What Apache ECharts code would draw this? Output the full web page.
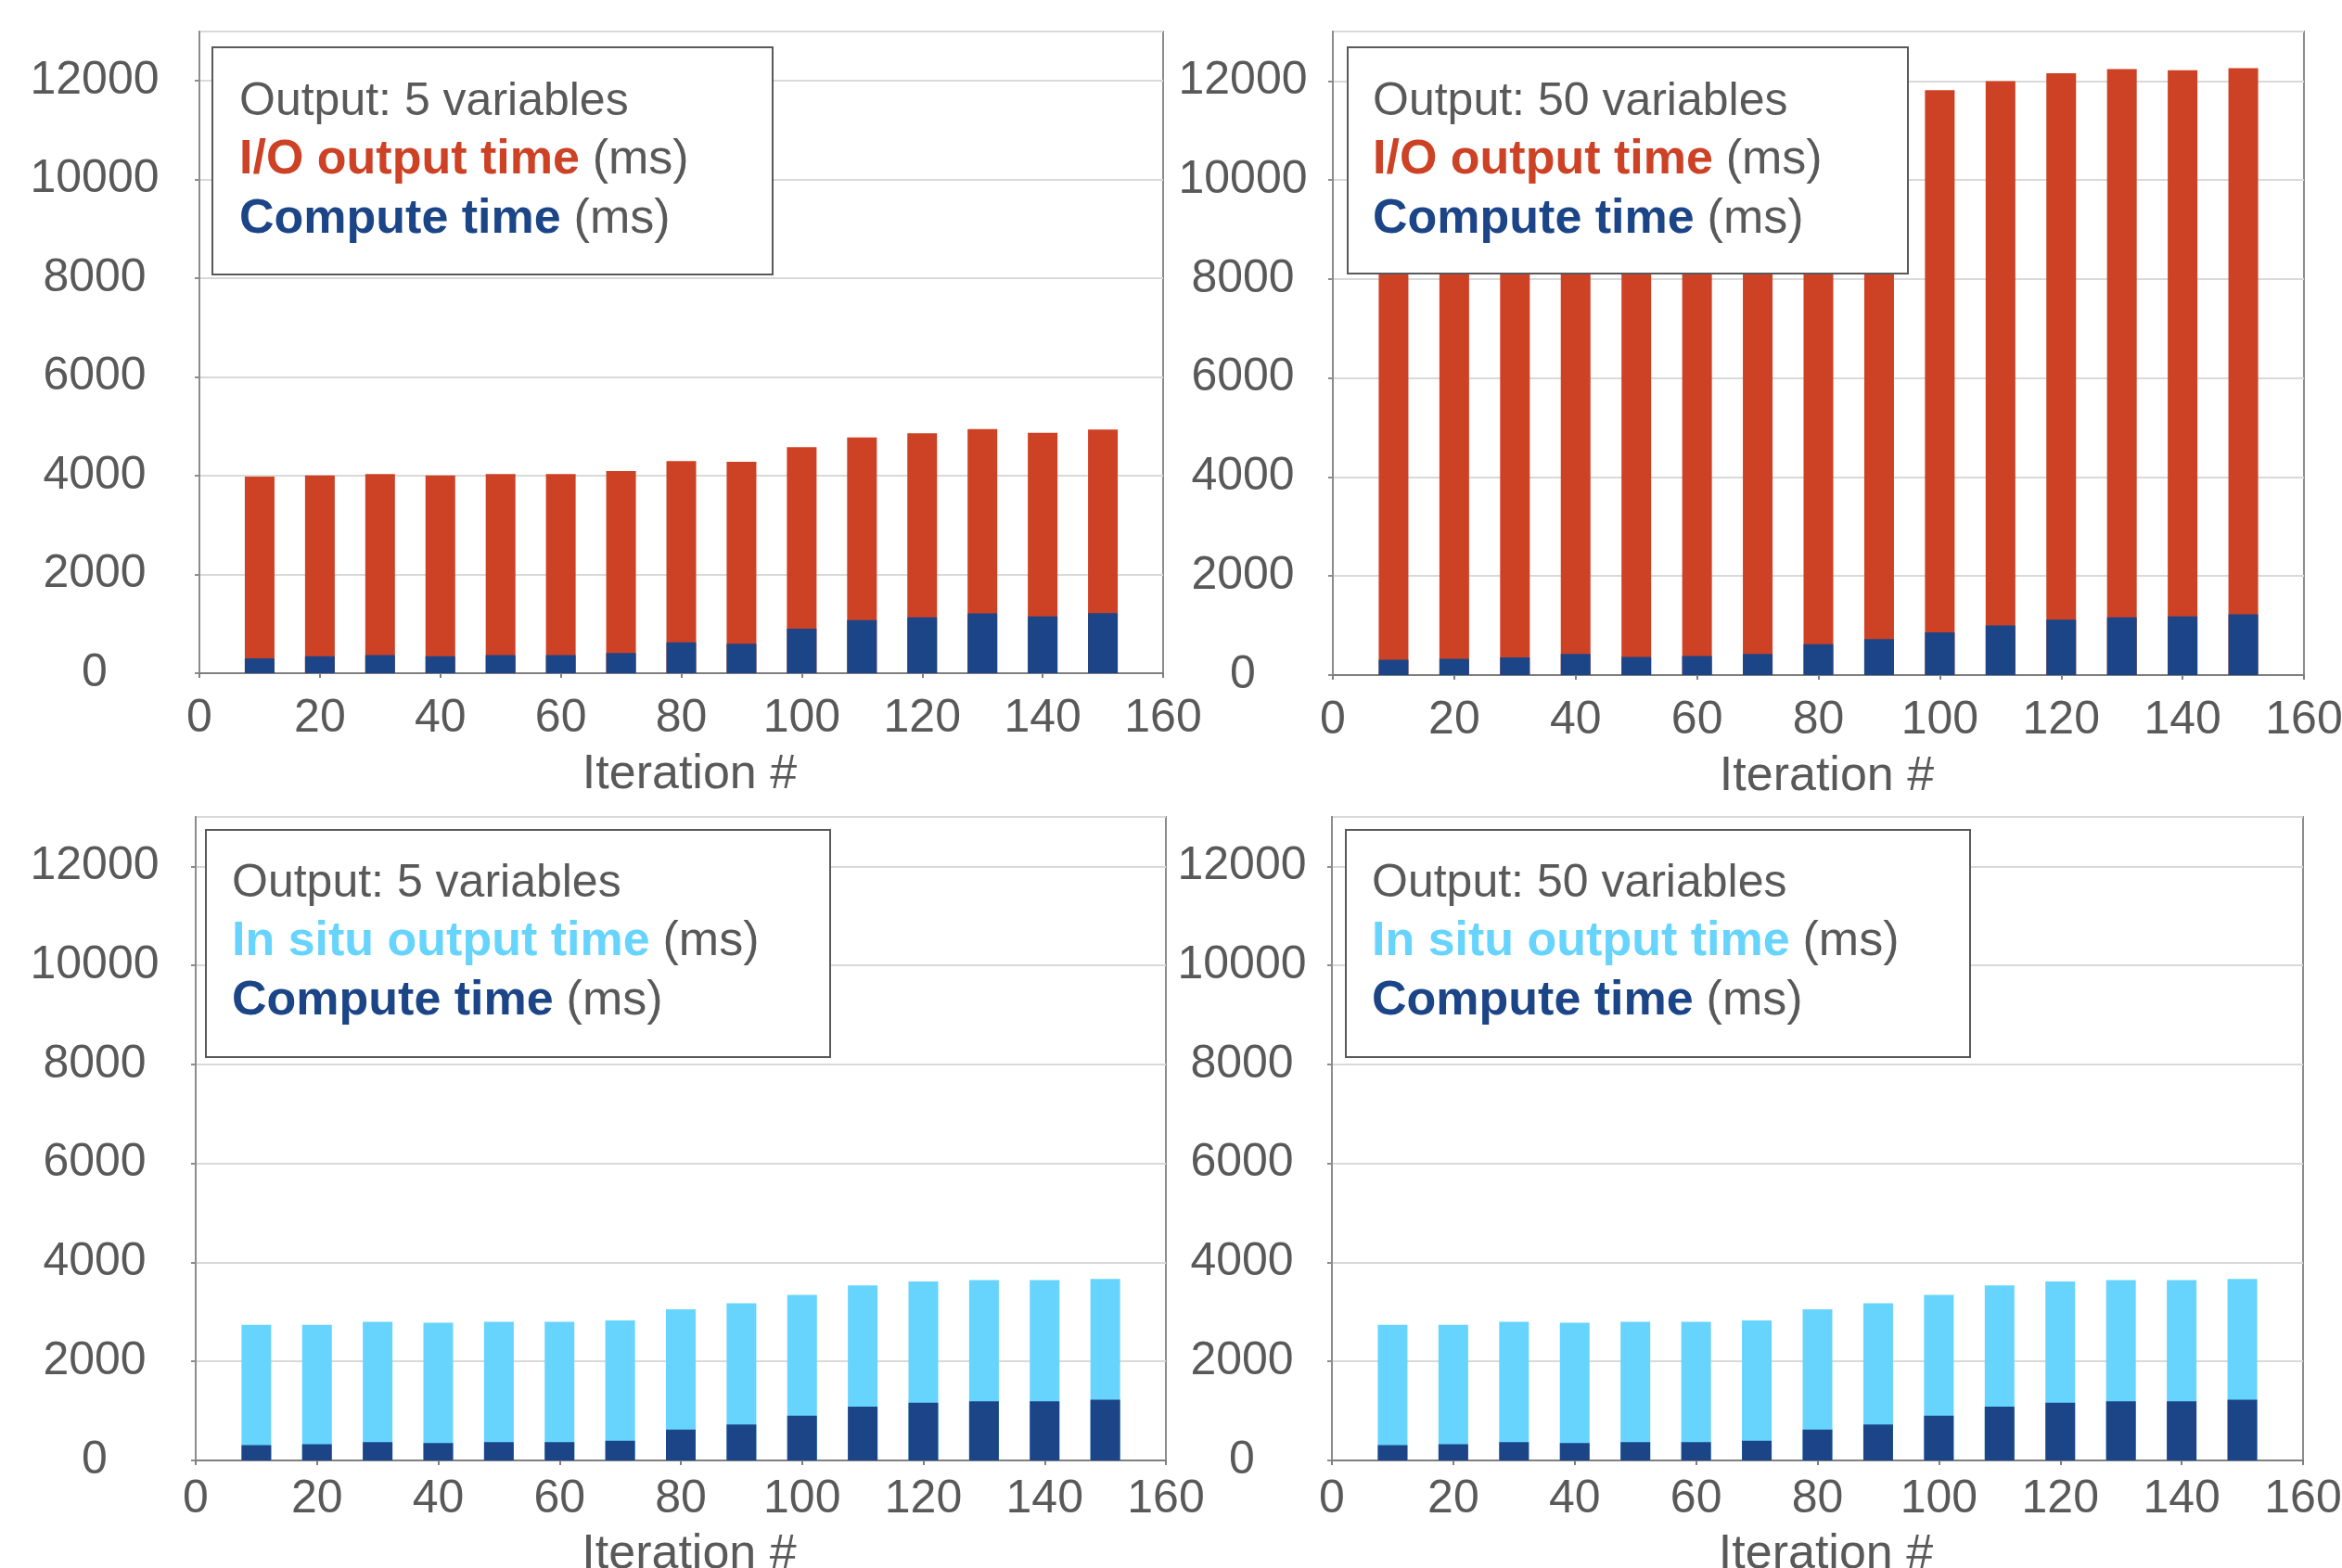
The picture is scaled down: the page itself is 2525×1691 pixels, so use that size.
<!DOCTYPE html>
<html>
<head>
<meta charset="utf-8">
<title>Output time vs iteration</title>
<script src="https://cdn.jsdelivr.net/npm/echarts@6/dist/echarts.min.js"></script>
<style>
  html, body { margin: 0; padding: 0; background: #fff; overflow: hidden; }
  #chart { width: 2525px; height: 1691px; }
</style>
</head>
<body>
<div id="chart"></div>
<script>
// iteration numbers (x positions of the bars)
var iterations = [10, 20, 30, 40, 50, 60, 70, 80, 90, 100, 110, 120, 130, 140, 150];

var io5Compute = [300, 345, 365, 345, 365, 365, 410, 625, 595, 900, 1075, 1130, 1210, 1150, 1215];
var io5Total   = [3985, 4005, 4035, 4005, 4035, 4035, 4095, 4295, 4285, 4580, 4775, 4860, 4945, 4870, 4935];

// top right: I/O, 50 variables (first nine tops hidden behind the legend box, estimated)
var io50Compute = [310, 330, 355, 425, 365, 385, 425, 625, 725, 860, 1000, 1120, 1165, 1185, 1225];
var io50Total   = [10900, 10950, 11000, 10950, 11000, 11000, 11050, 11200, 11300, 11815, 12000, 12155, 12240, 12220, 12260];

// bottom left: in situ, 5 variables
var situ5Compute = [310, 330, 370, 350, 370, 370, 400, 625, 725, 905, 1085, 1165, 1195, 1195, 1225];
var situ5Total   = [2740, 2740, 2800, 2780, 2800, 2800, 2830, 3055, 3175, 3345, 3535, 3615, 3645, 3645, 3665];

// bottom right: in situ, 50 variables
var situ50Compute = [310, 330, 370, 350, 370, 370, 400, 625, 725, 905, 1085, 1165, 1195, 1195, 1225];
var situ50Total   = [2740, 2740, 2800, 2780, 2800, 2800, 2830, 3055, 3175, 3345, 3535, 3615, 3645, 3645, 3665];

// axis ticks
var yMax = 13000, yStep = 2000;
var xMax = 160, xStep = 20;

var RED = '#CD4125', NAVY = '#1C4587', SKY = '#66D4FD', GREY = '#595959';
var FONT = 'Liberation Sans, Arial, sans-serif';

var panels = [
    { grid: { left: 215, top: 34, width: 1039, height: 692 }, yMargin: 113, xMargin: 24, nameGap: 84,
      compute: io5Compute, total: io5Total, outColor: RED },
    { grid: { left: 1437, top: 34, width: 1047, height: 694 }, yMargin: 97, xMargin: 24, nameGap: 84,
      compute: io50Compute, total: io50Total, outColor: RED },
    { grid: { left: 211, top: 881, width: 1046, height: 694 }, yMargin: 109, xMargin: 17, nameGap: 76,
      compute: situ5Compute, total: situ5Total, outColor: SKY },
    { grid: { left: 1436, top: 881, width: 1047, height: 694 }, yMargin: 97, xMargin: 17, nameGap: 76,
      compute: situ50Compute, total: situ50Total, outColor: SKY }
];

function pairs(values) {
    return iterations.map(function (it, i) { return [it, values[i]]; });
}

var grids = [], xAxes = [], yAxes = [], series = [];
panels.forEach(function (p, i) {
    grids.push(Object.assign({
        show: true, borderColor: '#8c8c8c', borderWidth: 2, backgroundColor: '#fff',
        containLabel: false, outerBoundsMode: 'none'
    }, p.grid));
    xAxes.push({
        type: 'value', gridIndex: i, min: 0, max: xMax, interval: xStep,
        name: 'Iteration #', nameLocation: 'middle', nameGap: p.nameGap,
        nameTextStyle: { color: GREY, fontSize: 52, fontFamily: FONT, padding: [0, 0, 0, 18] },
        axisLine: { lineStyle: { color: '#7f7f7f', width: 2 } },
        axisTick: { show: true, length: 5, lineStyle: { color: '#7f7f7f', width: 2 } },
        axisLabel: { color: GREY, fontSize: 50, fontFamily: FONT, margin: p.xMargin,
                     formatter: function (v) { return String(v); } },
        splitLine: { show: false }
    });
    yAxes.push({
        type: 'value', gridIndex: i, min: 0, max: yMax, interval: yStep,
        axisLine: { show: true, lineStyle: { color: '#8c8c8c', width: 2 } },
        axisTick: { show: true, length: 5, lineStyle: { color: '#8c8c8c', width: 2 } },
        axisLabel: { color: GREY, fontSize: 50, fontFamily: FONT, margin: p.yMargin, align: 'center',
                     showMaxLabel: false, formatter: function (v) { return String(v); } },
        splitLine: { show: true, lineStyle: { color: '#d9d9d9', width: 2 } }
    });
    // output part: full bar up to the total, compute drawn over its lower part
    series.push({
        type: 'bar', xAxisIndex: i, yAxisIndex: i, barWidth: 32, barGap: '-100%', z: 2,
        itemStyle: { color: p.outColor }, data: pairs(p.total)
    });
    series.push({
        type: 'bar', xAxisIndex: i, yAxisIndex: i, barWidth: 32, barGap: '-100%', z: 3,
        itemStyle: { color: NAVY }, data: pairs(p.compute)
    });
});

// legend boxes
var rich = {
    g: { fill: GREY, fontSize: 50, fontFamily: FONT },
    m: { fill: GREY, fontSize: 52, fontFamily: FONT },
    r: { fill: RED, fontSize: 52, fontFamily: FONT, fontWeight: 'bold' },
    s: { fill: SKY, fontSize: 52, fontFamily: FONT, fontWeight: 'bold' },
    b: { fill: NAVY, fontSize: 52, fontFamily: FONT, fontWeight: 'bold' }
};
var boxes = [
    { x: 229, y: 51, w: 604, h: 245, tx: 258, lines: [110, 173, 237],
      text: ['{g|Output: 5 variables}', '{r|I/O output time} {m|(ms)}', '{b|Compute time} {m|(ms)}'] },
    { x: 1453, y: 51, w: 604, h: 244, tx: 1480, lines: [110, 173, 237],
      text: ['{g|Output: 50 variables}', '{r|I/O output time} {m|(ms)}', '{b|Compute time} {m|(ms)}'] },
    { x: 222, y: 895, w: 673, h: 245, tx: 250, lines: [953, 1016, 1080],
      text: ['{g|Output: 5 variables}', '{s|In situ output time} {m|(ms)}', '{b|Compute time} {m|(ms)}'] },
    { x: 1451, y: 895, w: 673, h: 245, tx: 1479, lines: [953, 1016, 1080],
      text: ['{g|Output: 50 variables}', '{s|In situ output time} {m|(ms)}', '{b|Compute time} {m|(ms)}'] }
];
var graphics = [];
boxes.forEach(function (b) {
    graphics.push({
        type: 'rect', z: 100,
        shape: { x: b.x, y: b.y, width: b.w, height: b.h },
        style: { fill: '#fff', stroke: '#595959', lineWidth: 2 }
    });
    b.text.forEach(function (t, k) {
        graphics.push({
            type: 'text', z: 101,
            style: { x: b.tx, y: b.lines[k], text: t, rich: rich, verticalAlign: 'middle', align: 'left',
                     fontSize: 50, fontFamily: FONT, fill: GREY }
        });
    });
});

var chart = echarts.init(document.getElementById('chart'));
chart.setOption({
    backgroundColor: '#fff',
    animation: false,
    grid: grids,
    xAxis: xAxes,
    yAxis: yAxes,
    series: series,
    graphic: graphics
});
</script>
</body>
</html>
